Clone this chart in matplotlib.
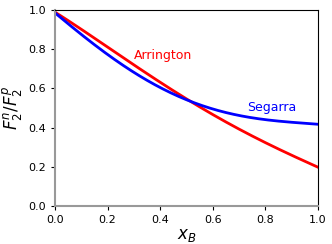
import matplotlib
matplotlib.use("Agg")
import matplotlib.pyplot as plt
import numpy as np

x_B = [0.0, 0.1, 0.2, 0.3, 0.4, 0.5, 0.6, 0.7, 0.8, 0.9, 1.0]
arrington = [0.99, 0.90, 0.81, 0.72, 0.635, 0.545, 0.465, 0.39, 0.325, 0.26, 0.197]
segarra = [0.985, 0.875, 0.775, 0.68, 0.605, 0.54, 0.495, 0.465, 0.44, 0.425, 0.418]

xs = np.linspace(0, 1, 201)
def smooth(y):
    c = np.polyfit(x_B, y, 4)
    return np.polyval(c, xs)

fig = plt.figure(figsize=(3.32, 2.44), dpi=100)
ax = fig.add_axes([0.1657, 0.1557, 0.7923, 0.8033])
ax.plot(xs, smooth(arrington), color='red', lw=2)
ax.plot(xs, smooth(segarra), color='blue', lw=2)
ax.text(0.30, 0.77, 'Arrington', color='red', fontsize=9, va='center')
ax.text(0.73, 0.505, 'Segarra', color='blue', fontsize=9, va='center')
ax.set_xlim(0, 1)
ax.set_ylim(0, 1)
ax.set_xticks([0, 0.2, 0.4, 0.6, 0.8, 1.0])
ax.set_yticks([0, 0.2, 0.4, 0.6, 0.8, 1.0])
ax.tick_params(labelsize=8, length=3)
ax.set_xlabel('$x_B$', fontsize=12, labelpad=1)
ax.set_ylabel('$F_2^n/F_2^p$', fontsize=12, labelpad=2)
for s in ['left', 'bottom']:
    ax.spines[s].set_color('#999999')
    ax.spines[s].set_linewidth(1.5)
for s in ['top', 'right']:
    ax.spines[s].set_linewidth(0.8)
fig.savefig('out.png', dpi=100)
